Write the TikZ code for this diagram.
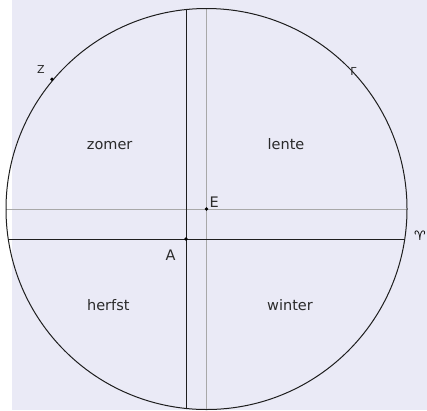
\documentclass[tikz,border=0pt]{standalone}
\usepackage{fontspec}
\setmainfont{DejaVu Sans}
\definecolor{bg}{HTML}{EAEAF6}
\definecolor{ink}{HTML}{1E1E1E}
\definecolor{greyline}{HTML}{A8A8A8}
\definecolor{txt}{HTML}{2A2A2A}
\begin{document}
\begin{tikzpicture}[x=1pt,y=-1pt,
  lbl/.style={font=\fontsize{14.5}{16}\selectfont, text=txt, inner sep=0pt, anchor=base},
  smalllbl/.style={font=\fontsize{11}{12}\selectfont, text=txt, inner sep=0pt, anchor=base},
  dot/.style={circle, fill=black, inner sep=0pt, minimum size=3.8pt},
  mainline/.style={draw=ink, line width=1pt},
  auxline/.style={draw=greyline, line width=1pt}]
\useasboundingbox (0,0) rectangle (427,410);
\fill[bg] (11.7,0) rectangle (427,410);
% centre E of the circle and eccentric point A
\coordinate (E) at (206.5,209);
\coordinate (A) at (186,239);
% chord ends
\coordinate (Gtop) at (206.5,8.5);
\coordinate (Gbot) at (206.5,409.5);
\coordinate (Gleft) at (6,209);
\coordinate (Gright) at (407,209);
\coordinate (Btop) at (186,9.55);
\coordinate (Bbot) at (186,408.45);
\coordinate (Bleft) at (8.8,239);
\coordinate (Bright) at (404.2,239);
% grey lines through E
\draw[auxline] (Gtop) -- (Gbot);
\draw[auxline] (Gleft) -- (Gright);
% black lines through A
\draw[mainline] (Btop) -- (Bbot);
\draw[mainline] (Bleft) -- (Bright);
% circle
\draw[mainline] (E) circle[radius=200.5];
% points
\node[dot] (Edot) at (E) {};
\node[dot] (Adot) at (A) {};
\node[dot] (Zdot) at (52,79.3) {};
% labels
\node[lbl] (Elbl) at (214.2,207.3) {E};
\node[lbl] (Albl) at (170.5,260) {A};
\node[smalllbl] (Zlbl) at (41,73.3) {Z};
\node[smalllbl] (Glbl) at (353.5,75) {Γ};
\node[font=\fontsize{13}{14}\selectfont\bfseries, text=black, inner sep=0pt] (Aries) at (420,236) {♈};
% seasons
\node[lbl] (zomer) at (109.7,149) {zomer};
\node[lbl] (lente) at (286,149.3) {lente};
\node[lbl] (herfst) at (108.3,310.7) {herfst};
\node[lbl] (winter) at (290,310) {winter};
\end{tikzpicture}
\end{document}
